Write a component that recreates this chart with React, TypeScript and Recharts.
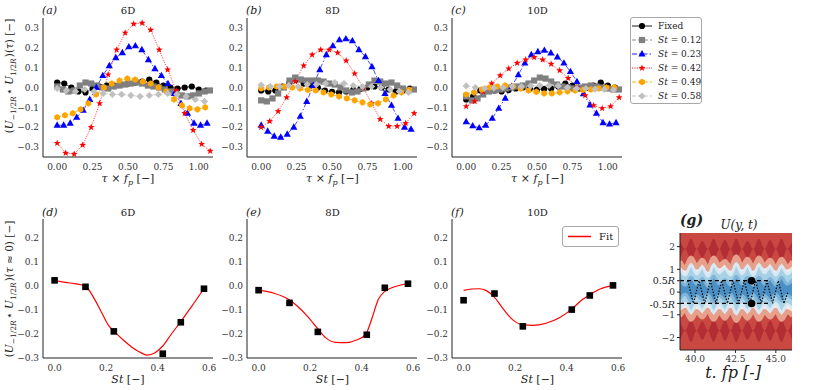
import React from 'react';
import { ComposedChart, Line, Area, Scatter, XAxis, YAxis, ReferenceLine } from 'recharts';

// tau * f_p sampling of each case
const TAU_FIXED = [0, 0.05, 0.1, 0.15, 0.2, 0.25, 0.3, 0.35, 0.4, 0.45, 0.5, 0.55, 0.6, 0.65, 0.7, 0.75, 0.8, 0.85, 0.9, 0.95, 1.0, 1.05];
const TAU_ST012 = [0, 0.04, 0.08, 0.12, 0.16, 0.2, 0.24, 0.28, 0.32, 0.36, 0.4, 0.44, 0.48, 0.52, 0.56, 0.6, 0.64, 0.68, 0.72, 0.76, 0.8, 0.84, 0.88, 0.92, 0.96, 1.0, 1.04, 1.08];
const TAU_ST023 = [0, 0.046, 0.092, 0.138, 0.184, 0.23, 0.276, 0.322, 0.368, 0.414, 0.46, 0.506, 0.552, 0.598, 0.644, 0.69, 0.736, 0.782, 0.828, 0.874, 0.92, 0.966, 1.012, 1.058];
const TAU_ST042 = [0, 0.06, 0.12, 0.18, 0.24, 0.3, 0.36, 0.42, 0.48, 0.54, 0.6, 0.66, 0.72, 0.78, 0.84, 0.9, 0.96, 1.02, 1.08];
const TAU_ST049 = [0, 0.055, 0.11, 0.165, 0.22, 0.275, 0.33, 0.385, 0.44, 0.495, 0.55, 0.605, 0.66, 0.715, 0.77, 0.825, 0.88, 0.935, 0.99, 1.045];
const TAU_ST058 = [0, 0.065, 0.13, 0.195, 0.26, 0.325, 0.39, 0.455, 0.52, 0.585, 0.65, 0.715, 0.78, 0.845, 0.91, 0.975, 1.04];

// 6D
const FIXED_6D = [0.025, 0.02, 0.0, -0.02, -0.025, -0.005, 0.005, 0.01, 0.01, 0.015, 0.02, 0.025, 0.03, 0.04, 0.025, 0.01, 0.0, -0.005, 0.0, 0.005, -0.01, -0.015];
const ST012_6D = [0.005, -0.01, -0.02, -0.015, 0.01, 0.025, 0.02, 0.01, 0.0, -0.005, 0.005, 0.01, 0.015, 0.02, 0.025, 0.02, 0.01, 0.005, 0.0, -0.01, -0.02, -0.03, -0.04, -0.045, -0.04, -0.03, -0.02, -0.015];
const ST023_6D = [-0.19, -0.19, -0.18, -0.15, -0.115, -0.06, 0.0, 0.06, 0.11, 0.15, 0.175, 0.205, 0.21, 0.19, 0.14, 0.095, 0.06, 0.02, -0.03, -0.08, -0.13, -0.18, -0.19, -0.18];
const ST042_6D = [-0.28, -0.33, -0.335, -0.29, -0.2, -0.08, 0.065, 0.19, 0.275, 0.32, 0.325, 0.29, 0.19, 0.09, -0.015, -0.13, -0.215, -0.285, -0.32];
const ST049_6D = [-0.15, -0.14, -0.13, -0.11, -0.08, -0.035, 0.0, 0.02, 0.035, 0.045, 0.04, 0.03, 0.02, 0.0, -0.02, -0.06, -0.09, -0.105, -0.11, -0.1];
const ST058_6D = [-0.005, -0.015, -0.02, -0.01, -0.02, -0.03, -0.035, -0.035, -0.04, -0.045, -0.04, -0.035, -0.03, -0.035, -0.045, -0.06, -0.07];

// 8D
const FIXED_8D = [-0.015, -0.02, -0.015, 0.005, 0.025, 0.04, 0.02, 0.01, 0.0, -0.015, -0.022, -0.025, -0.02, -0.012, -0.008, 0.0, 0.005, 0.0, -0.01, -0.02, -0.015, -0.005];
const ST012_8D = [-0.065, -0.07, -0.055, -0.03, 0.0, 0.035, 0.05, 0.04, 0.035, 0.035, 0.035, 0.03, 0.02, 0.015, 0.0, -0.015, -0.025, -0.02, -0.005, 0.015, 0.035, 0.03, 0.02, 0.025, 0.01, -0.005, -0.015, -0.01];
const ST023_8D = [-0.19, -0.22, -0.245, -0.25, -0.235, -0.2, -0.145, -0.07, 0.01, 0.09, 0.165, 0.21, 0.24, 0.245, 0.235, 0.19, 0.155, 0.105, 0.035, -0.03, -0.09, -0.155, -0.2, -0.21];
const ST042_8D = [-0.2, -0.17, -0.12, -0.05, 0.03, 0.11, 0.165, 0.19, 0.19, 0.175, 0.135, 0.07, 0.0, -0.08, -0.16, -0.195, -0.195, -0.18, -0.13];
const ST049_8D = [-0.005, 0.0, 0.005, 0.005, 0.0, -0.005, -0.012, -0.015, -0.025, -0.035, -0.045, -0.055, -0.065, -0.075, -0.085, -0.08, -0.06, -0.04, -0.025, -0.012];
const ST058_8D = [0.012, 0.005, 0.005, 0.01, 0.005, 0.015, 0.015, 0.02, 0.025, 0.02, 0.01, 0.005, 0.005, 0.0, -0.01, -0.02, -0.025];

// 10D
const FIXED_10D = [-0.06, -0.045, -0.015, -0.01, -0.015, -0.02, -0.012, -0.005, 0.0, -0.005, -0.01, -0.008, -0.005, 0.005, 0.02, 0.01, -0.005, -0.002, 0.01, 0.025, 0.01, 0.0];
const ST012_10D = [-0.045, -0.065, -0.055, -0.035, -0.02, -0.015, -0.01, -0.005, 0.0, 0.005, 0.01, 0.02, 0.035, 0.05, 0.045, 0.03, 0.015, 0.005, 0.0, -0.005, 0.0, 0.005, 0.01, 0.005, 0.0, -0.005, -0.01, -0.01];
const ST023_10D = [-0.172, -0.193, -0.203, -0.19, -0.155, -0.105, -0.054, 0.005, 0.064, 0.123, 0.165, 0.18, 0.187, 0.174, 0.154, 0.123, 0.08, 0.03, -0.032, -0.088, -0.13, -0.177, -0.184, -0.177];
const ST042_10D = [-0.095, -0.07, -0.02, 0.02, 0.06, 0.095, 0.123, 0.14, 0.152, 0.14, 0.118, 0.086, 0.047, 0.0, -0.04, -0.09, -0.105, -0.095, -0.05];
const ST049_10D = [-0.035, -0.025, -0.01, 0.0, 0.005, 0.01, 0.005, -0.005, -0.015, -0.022, -0.03, -0.03, -0.025, -0.02, -0.015, -0.012, -0.01, -0.005, 0.0, 0.0];
const ST058_10D = [0.008, 0.0, -0.005, -0.002, 0.0, 0.005, 0.005, 0.008, 0.01, 0.01, 0.008, 0.0, -0.005, -0.005, -0.008, -0.01, -0.012];

// correlation at tau ~ 0 vs St, and the fitted curves
const ST_POINTS = [0, 0.12, 0.23, 0.42, 0.49, 0.58];
const PEAK_6D = [0.024, -0.003, -0.189, -0.282, -0.151, -0.011];
const PEAK_8D = [-0.017, -0.07, -0.191, -0.203, -0.007, 0.01];
const PEAK_10D = [-0.059, -0.031, -0.168, -0.098, -0.039, 0.003];

const FIT_ST_6D = [0, 0.06, 0.12, 0.15, 0.18, 0.21, 0.24, 0.27, 0.3, 0.33, 0.36, 0.39, 0.42, 0.45, 0.49, 0.53, 0.58];
const FIT_6D = [0.022, 0.013, 0.0, -0.045, -0.105, -0.165, -0.198, -0.228, -0.255, -0.275, -0.288, -0.278, -0.25, -0.205, -0.148, -0.088, -0.01];
const FIT_ST_8D = [0, 0.06, 0.12, 0.15, 0.19, 0.23, 0.26, 0.3, 0.34, 0.38, 0.415, 0.44, 0.465, 0.49, 0.52, 0.58];
const FIT_8D = [-0.017, -0.03, -0.058, -0.083, -0.126, -0.178, -0.215, -0.235, -0.236, -0.225, -0.203, -0.135, -0.055, -0.022, -0.006, 0.011];
const FIT_ST_10D = [0, 0.03, 0.06, 0.09, 0.12, 0.155, 0.19, 0.23, 0.27, 0.32, 0.37, 0.42, 0.46, 0.49, 0.53, 0.58];
const FIT_10D = [-0.018, -0.012, -0.011, -0.02, -0.047, -0.097, -0.14, -0.162, -0.164, -0.155, -0.133, -0.096, -0.057, -0.036, -0.012, 0.002];

// U(y, t) map, read as band edges per time sample
const HEAT_T = [39.05, 39.4, 39.75, 40.1, 40.45, 40.8, 41.15, 41.5, 41.85, 42.2, 42.55, 42.9, 43.25, 43.6, 43.95, 44.3, 44.65, 45.0, 45.35, 45.7, 46.05];
const PALE_TOP = [1.35, 1.05, 1.5, 1.1, 1.4, 1.0, 1.5, 1.15, 1.35, 1.05, 1.55, 1.1, 1.45, 1.05, 1.5, 1.15, 1.4, 1.05, 1.45, 1.1, 1.35];
const BLUE_TOP = [1.05, 0.75, 1.2, 0.8, 1.1, 0.7, 1.2, 0.85, 1.05, 0.75, 1.25, 0.8, 1.15, 0.75, 1.2, 0.85, 1.1, 0.75, 1.15, 0.8, 1.05];
const CORE_TOP = [0.6, 0.3, 0.65, 0.35, 0.6, 0.25, 0.7, 0.35, 0.55, 0.3, 0.7, 0.35, 0.65, 0.3, 0.65, 0.35, 0.6, 0.3, 0.65, 0.35, 0.55];
const CORE_BOT = [-0.3, -0.1, -0.4, -0.15, -0.35, -0.1, -0.45, -0.15, -0.35, -0.1, -0.45, -0.15, -0.4, -0.1, -0.45, -0.15, -0.35, -0.1, -0.4, -0.15, -0.3];
const BLUE_BOT = [-0.75, -0.5, -0.9, -0.55, -0.8, -0.5, -0.9, -0.55, -0.85, -0.5, -0.95, -0.55, -0.85, -0.5, -0.9, -0.55, -0.8, -0.5, -0.9, -0.55, -0.75];
const PALE_BOT = [-1.05, -0.8, -1.2, -0.85, -1.1, -0.8, -1.2, -0.85, -1.15, -0.8, -1.25, -0.85, -1.15, -0.8, -1.2, -0.85, -1.1, -0.8, -1.2, -0.85, -1.05];
const DARK_TOP_LO = [1.45, 1.9, 1.4, 1.9, 1.5, 1.9, 1.4, 1.9, 1.45, 1.9, 1.4, 1.9, 1.5, 1.9, 1.4, 1.9, 1.45, 1.9, 1.4, 1.9, 1.45];
const DARK_TOP_HI = [2.3, 1.9, 2.35, 1.9, 2.25, 1.9, 2.35, 1.9, 2.3, 1.9, 2.35, 1.9, 2.25, 1.9, 2.35, 1.9, 2.3, 1.9, 2.35, 1.9, 2.3];
const DARK_BOT_HI = [-1.25, -1.7, -1.2, -1.7, -1.3, -1.7, -1.2, -1.7, -1.25, -1.7, -1.2, -1.7, -1.3, -1.7, -1.2, -1.7, -1.25, -1.7, -1.2, -1.7, -1.25];
const DARK_BOT_LO = [-2.15, -1.7, -2.2, -1.7, -2.1, -1.7, -2.2, -1.7, -2.15, -1.7, -2.2, -1.7, -2.1, -1.7, -2.2, -1.7, -2.15, -1.7, -2.2, -1.7, -2.15];

const ZIG_T = [39.55, 39.9, 40.25, 40.6, 40.95, 41.3, 41.65, 42.0, 42.35, 42.7, 43.05, 43.4, 43.75, 44.1, 44.45, 44.8, 45.15, 45.5, 45.75];
const ZIG_Y = [0.5, -0.5, 0.5, -0.5, 0.5, -0.5, 0.5, -0.5, 0.5, -0.5, 0.5, -0.5, 0.5, -0.5, 0.5, -0.5, 0.5, -0.5, 0.0];
const PROBE_T = [43.5, 43.5];
const PROBE_Y = [0.5, -0.5];
const PROBE_LEVELS = [0.5, -0.5];
const PROBE_LINE_END = 44.6;

const TAU_TICKS = [0, 0.25, 0.5, 0.75, 1.0];
const CORR_TICKS = [-0.3, -0.2, -0.1, 0, 0.1, 0.2, 0.3];
const ST_TICKS = [0, 0.2, 0.4, 0.6];
const PEAK_TICKS = [-0.3, -0.2, -0.1, 0, 0.1, 0.2];
const G_X_TICKS = [40, 42.5, 45];
const G_Y_TICKS = [-2, -1, -0.5, 0, 0.5, 1, 2];
const G_X_DOMAIN = [39.07, 46.0];
const G_Y_DOMAIN = [-2.55, 2.6];

type Shape = 'circle' | 'square' | 'triangle' | 'star' | 'hexagon' | 'diamond';

const SERIES: { key: string; label: string; color: string; dash?: string; shape: Shape; tau: number[] }[] = [
  { key: 'fixed', label: 'Fixed', color: '#000000', shape: 'circle', tau: TAU_FIXED },
  { key: 'st012', label: '0.12', color: '#808080', dash: '4 2', shape: 'square', tau: TAU_ST012 },
  { key: 'st023', label: '0.23', color: '#0000ff', dash: '5 2 1.5 2', shape: 'triangle', tau: TAU_ST023 },
  { key: 'st042', label: '0.42', color: '#ff0000', dash: '1.2 1.2', shape: 'star', tau: TAU_ST042 },
  { key: 'st049', label: '0.49', color: '#ffa500', dash: '4 2', shape: 'hexagon', tau: TAU_ST049 },
  { key: 'st058', label: '0.58', color: '#c0c0c0', dash: '4 2', shape: 'diamond', tau: TAU_ST058 },
];

const TOP_PANELS = [
  { letter: 'a', title: '6D', left: 0, values: [FIXED_6D, ST012_6D, ST023_6D, ST042_6D, ST049_6D, ST058_6D] },
  { letter: 'b', title: '8D', left: 204, values: [FIXED_8D, ST012_8D, ST023_8D, ST042_8D, ST049_8D, ST058_8D] },
  { letter: 'c', title: '10D', left: 409, values: [FIXED_10D, ST012_10D, ST023_10D, ST042_10D, ST049_10D, ST058_10D] },
];

const BOTTOM_PANELS = [
  { letter: 'd', title: '6D', left: 0, peak: PEAK_6D, fitSt: FIT_ST_6D, fit: FIT_6D },
  { letter: 'e', title: '8D', left: 204, peak: PEAK_8D, fitSt: FIT_ST_8D, fit: FIT_8D },
  { letter: 'f', title: '10D', left: 409, peak: PEAK_10D, fitSt: FIT_ST_10D, fit: FIT_10D },
];

const SERIF = 'DejaVu Serif, serif';
const TICK = { fontFamily: SERIF, fontSize: 9, fill: '#333' };
const AXIS = '#222';
const MINUS = '\u2212';
const PLOT_W = 170;
const Y_W = 43;
const RIGHT_PAD = 12;

const fmt = (d: number) => (v: number) => (v < 0 ? MINUS : '') + Math.abs(v).toFixed(d);
const zip = (xs: number[], ys: number[]) => xs.map((x, i) => ({ x, y: ys[i] }));

const starPoints = (cx: number, cy: number, R: number, r: number) =>
  Array.from({ length: 10 }, (_, k) => {
    const a = -Math.PI / 2 + (k * Math.PI) / 5;
    const rad = k % 2 === 0 ? R : r;
    return `${cx + rad * Math.cos(a)},${cy + rad * Math.sin(a)}`;
  }).join(' ');

const polyPoints = (cx: number, cy: number, r: number, n: number, rot: number) =>
  Array.from({ length: n }, (_, k) => {
    const a = rot + (k * 2 * Math.PI) / n;
    return `${cx + r * Math.cos(a)},${cy + r * Math.sin(a)}`;
  }).join(' ');

function Marker({ shape, cx, cy, color }: { shape: Shape; cx: number; cy: number; color: string }) {
  if (cx == null || cy == null) return null;
  switch (shape) {
    case 'circle':
      return <circle cx={cx} cy={cy} r={3.1} fill={color} />;
    case 'square':
      return <rect x={cx - 3.1} y={cy - 3.1} width={6.2} height={6.2} fill={color} />;
    case 'triangle':
      return <polygon points={`${cx},${cy - 3.9} ${cx + 3.6},${cy + 2.5} ${cx - 3.6},${cy + 2.5}`} fill={color} />;
    case 'star':
      return <polygon points={starPoints(cx, cy, 3.6, 1.5)} fill={color} />;
    case 'hexagon':
      return <polygon points={polyPoints(cx, cy, 3.3, 6, -Math.PI / 2)} fill={color} />;
    default:
      return <polygon points={polyPoints(cx, cy, 3.6, 4, -Math.PI / 2)} fill={color} />;
  }
}

const makeDot = (shape: Shape, color: string) => (props: any) => (
  <g key={`${shape}-${props.index}`}>
    <Marker shape={shape} cx={props.cx} cy={props.cy} color={color} />
  </g>
);

const squareShape = (props: any) => <rect x={props.cx - 3.3} y={props.cy - 3.3} width={6.6} height={6.6} fill="#000" />;
const probeShape = (props: any) => <circle cx={props.cx} cy={props.cy} r={3.8} fill="#000" />;

function TopPanel({ left, values }: { left: number; values: number[][] }) {
  return (
    <div style={{ position: 'absolute', left, top: 0 }}>
      <ComposedChart width={Y_W + PLOT_W + RIGHT_PAD} height={200} margin={{ top: 18, right: RIGHT_PAD, bottom: 0, left: 0 }}>
        <XAxis dataKey="x" type="number" domain={[-0.1, 1.1]} ticks={TAU_TICKS} interval={0} tickFormatter={fmt(2)}
          allowDataOverflow height={43} tickSize={0} tickMargin={7} tick={TICK} stroke={AXIS} />
        <XAxis xAxisId="top" orientation="top" dataKey="x" type="number" domain={[-0.1, 1.1]} allowDataOverflow
          height={0} tick={false} tickLine={false} stroke={AXIS} />
        <YAxis type="number" domain={[-0.35, 0.35]} ticks={CORR_TICKS} interval={0} tickFormatter={fmt(1)}
          allowDataOverflow width={Y_W} tickSize={0} tickMargin={4} tick={TICK} stroke={AXIS} />
        <YAxis yAxisId="right" orientation="right" type="number" domain={[-0.35, 0.35]} width={0}
          tick={false} tickLine={false} stroke={AXIS} />
        {SERIES.map((s, i) => (
          <Line key={s.key} data={zip(s.tau, values[i])} dataKey="y" name={s.label} type="linear"
            stroke={s.color} strokeWidth={0.7} strokeDasharray={s.dash}
            dot={makeDot(s.shape, s.color)} activeDot={false} isAnimationActive={false} />
        ))}
      </ComposedChart>
    </div>
  );
}

function BottomPanel({ left, peak, fitSt, fit }: { left: number; peak: number[]; fitSt: number[]; fit: number[] }) {
  return (
    <div style={{ position: 'absolute', left, top: 200 }}>
      <ComposedChart width={Y_W + PLOT_W + RIGHT_PAD} height={190} margin={{ top: 19, right: RIGHT_PAD, bottom: 0, left: 0 }}>
        <XAxis dataKey="x" type="number" domain={[-0.045, 0.615]} ticks={ST_TICKS} interval={0} tickFormatter={fmt(1)}
          allowDataOverflow height={32} tickSize={0} tickMargin={7} tick={TICK} stroke={AXIS} />
        <XAxis xAxisId="top" orientation="top" dataKey="x" type="number" domain={[-0.045, 0.615]} allowDataOverflow
          height={0} tick={false} tickLine={false} stroke={AXIS} />
        <YAxis type="number" domain={[-0.3, 0.28]} ticks={PEAK_TICKS} interval={0} tickFormatter={fmt(1)}
          allowDataOverflow width={Y_W} tickSize={0} tickMargin={4} tick={TICK} stroke={AXIS} />
        <YAxis yAxisId="right" orientation="right" type="number" domain={[-0.3, 0.28]} width={0}
          tick={false} tickLine={false} stroke={AXIS} />
        <Line data={zip(fitSt, fit)} dataKey="y" type="monotone" stroke="#ff0000" strokeWidth={1.2}
          dot={false} activeDot={false} isAnimationActive={false} />
        <Scatter data={zip(ST_POINTS, peak)} dataKey="y" shape={squareShape} isAnimationActive={false} />
      </ComposedChart>
    </div>
  );
}

const HEAT_ROWS = HEAT_T.map((t, i) => ({
  t,
  base: G_Y_DOMAIN,
  darkTop: [DARK_TOP_LO[i], DARK_TOP_HI[i]],
  darkBot: [DARK_BOT_LO[i], DARK_BOT_HI[i]],
  pale: [PALE_BOT[i], PALE_TOP[i]],
  blue: [BLUE_BOT[i], BLUE_TOP[i]],
  core: [CORE_BOT[i], CORE_TOP[i]],
}));

const GTick = (props: any) => {
  const { x, y, payload } = props;
  const v = payload.value;
  if (Math.abs(v) === 0.5) {
    return (
      <text x={x} y={y} dy={v > 0 ? 3.5 : 5} textAnchor="end" fontFamily={SERIF} fontSize={9.5} fill="#222">
        {v < 0 ? '-0.5' : '0.5'}<tspan fontStyle="italic">R</tspan>
      </text>
    );
  }
  return (
    <text x={x} y={y} dy={3.2} textAnchor="end" fontFamily={SERIF} fontSize={9} fill="#333">
      {fmt(0)(v)}
    </text>
  );
};

function HeatPanel() {
  return (
    <div style={{ position: 'absolute', left: 640, top: 200 }}>
      <ComposedChart width={160} height={190} data={HEAT_ROWS} margin={{ top: 33, right: 8, bottom: 0, left: 0 }}>
        <XAxis dataKey="t" type="number" domain={G_X_DOMAIN} ticks={G_X_TICKS} interval={0} tickFormatter={fmt(1)}
          allowDataOverflow height={40} tickSize={3} tickMargin={3} tick={TICK} stroke={AXIS} />
        <YAxis type="number" domain={G_Y_DOMAIN} ticks={G_Y_TICKS} interval={0} tick={<GTick />}
          allowDataOverflow width={40} tickSize={3} tickMargin={2} stroke={AXIS} />
        <Area dataKey="base" type="linear" stroke="none" fill="#c94841" fillOpacity={1} isAnimationActive={false} activeDot={false} />
        <Area dataKey="darkTop" type="monotone" stroke="none" fill="#9e1229" fillOpacity={0.5} isAnimationActive={false} activeDot={false} />
        <Area dataKey="darkBot" type="monotone" stroke="none" fill="#9e1229" fillOpacity={0.5} isAnimationActive={false} activeDot={false} />
        <Area dataKey="pale" type="monotone" stroke="#e6a08b" strokeWidth={5} fill="#f7ede9" fillOpacity={1} isAnimationActive={false} activeDot={false} />
        <Area dataKey="blue" type="monotone" stroke="#d8e9f3" strokeWidth={3} fill="#a9d1e6" fillOpacity={1} isAnimationActive={false} activeDot={false} />
        <Area dataKey="core" type="monotone" stroke="#7fb5d8" strokeWidth={3} fill="#4a90c5" fillOpacity={1} isAnimationActive={false} activeDot={false} />
        {PROBE_LEVELS.map((lv) => (
          <ReferenceLine key={lv} segment={[{ x: G_X_DOMAIN[0], y: lv }, { x: PROBE_LINE_END, y: lv }]}
            stroke="#000" strokeWidth={1.2} strokeDasharray="4 3" />
        ))}
        <Line data={ZIG_T.map((t, i) => ({ t, y: ZIG_Y[i] }))} dataKey="y" type="linear" stroke="#000"
          strokeWidth={1.2} strokeDasharray="1.4 1.6" dot={false} activeDot={false} isAnimationActive={false} />
        <Scatter data={PROBE_T.map((t, i) => ({ t, y: PROBE_Y[i] }))} dataKey="y" shape={probeShape} isAnimationActive={false} />
      </ComposedChart>
    </div>
  );
}

function SeriesLegend() {
  return (
    <div style={{ position: 'absolute', left: 630, top: 17, width: 70, height: 85, border: '1px solid #a8a8a8', borderRadius: 3, background: 'rgba(255,255,255,0.85)' }}>
      <svg width={70} height={85}>
        {SERIES.map((s, i) => {
          const y = 8 + i * 14;
          return (
            <g key={s.key}>
              <line x1={1} x2={21} y1={y} y2={y} stroke={s.color} strokeWidth={0.9} strokeDasharray={s.dash} />
              <Marker shape={s.shape} cx={11} cy={y} color={s.color} />
              <text x={27} y={y + 3.3} fontFamily={SERIF} fontSize={9} fill="#222">
                {s.key === 'fixed' ? s.label : (<><tspan fontStyle="italic">St</tspan> = {s.label}</>)}
              </text>
            </g>
          );
        })}
      </svg>
    </div>
  );
}

function FitLegend() {
  return (
    <div style={{ position: 'absolute', left: 562, top: 226, width: 55, height: 19, border: '1px solid #a8a8a8', borderRadius: 3, background: 'rgba(255,255,255,0.85)' }}>
      <svg width={55} height={19}>
        <line x1={5} x2={28} y1={9.5} y2={9.5} stroke="#ff0000" strokeWidth={1.5} />
        <text x={36} y={13} fontFamily={SERIF} fontSize={10} fill="#222">Fit</text>
      </svg>
    </div>
  );
}

const sub = (content: React.ReactNode) => (
  <>
    <tspan dy={2.5} fontSize={7.5}>{content}</tspan>
    <tspan dy={-2.5}>{'\u200A'}</tspan>
  </>
);

function Annotations() {
  const centers = [128, 332.5, 537.5];
  const starts = [42, 246, 451];
  return (
    <svg width={817} height={390} style={{ position: 'absolute', left: 0, top: 0, pointerEvents: 'none' }} fontFamily={SERIF} fill="#222">
      {TOP_PANELS.map((p, i) => (
        <g key={p.letter}>
          <text x={starts[i]} y={14} fontSize={11} fontStyle="italic">({p.letter})</text>
          <text x={centers[i]} y={14} fontSize={10} textAnchor="middle">{p.title}</text>
          <text x={centers[i]} y={182} fontSize={11} textAnchor="middle">
            <tspan fontStyle="italic">τ</tspan> × <tspan fontStyle="italic">f</tspan>
            <tspan dy={2.5} fontSize={8} fontStyle="italic">p</tspan>
            <tspan dy={-2.5}> [{MINUS}]</tspan>
          </text>
        </g>
      ))}
      {BOTTOM_PANELS.map((p, i) => (
        <g key={p.letter}>
          <text x={starts[i]} y={216} fontSize={11} fontStyle="italic">({p.letter})</text>
          <text x={centers[i]} y={216} fontSize={10} textAnchor="middle">{p.title}</text>
          <text x={centers[i]} y={383} fontSize={11} textAnchor="middle">
            <tspan fontStyle="italic">St</tspan> [{MINUS}]
          </text>
        </g>
      ))}
      <text transform="rotate(-90 13 76)" x={13} y={76} fontSize={10.5} textAnchor="middle">
        (<tspan fontStyle="italic">U</tspan>{sub(<>{MINUS}1/2<tspan fontStyle="italic">R</tspan></>)}⋆ <tspan fontStyle="italic">U</tspan>
        {sub(<>1/2<tspan fontStyle="italic">R</tspan></>)})(<tspan fontStyle="italic">τ</tspan>) [{MINUS}]
      </text>
      <text transform="rotate(-90 13 289)" x={13} y={289} fontSize={10.5} textAnchor="middle">
        (<tspan fontStyle="italic">U</tspan>{sub(<>{MINUS}1/2<tspan fontStyle="italic">R</tspan></>)}⋆ <tspan fontStyle="italic">U</tspan>
        {sub(<>1/2<tspan fontStyle="italic">R</tspan></>)})(<tspan fontStyle="italic">τ</tspan> ≈ 0) [{MINUS}]
      </text>
      <text x={680} y={225} fontSize={14} fontStyle="italic" fontWeight="bold">(g)</text>
      <text x={739} y={229} fontSize={12} fontStyle="italic" textAnchor="middle">U(y, t)</text>
      <text x={733} y={378} fontSize={16} fontStyle="italic" textAnchor="middle">t. fp [-]</text>
    </svg>
  );
}

export default function App() {
  return (
    <div style={{ position: 'absolute', left: 0, top: 0, width: 817, height: 390, background: '#fff', overflow: 'hidden' }}>
      {TOP_PANELS.map((p) => (
        <TopPanel key={p.letter} left={p.left} values={p.values} />
      ))}
      {BOTTOM_PANELS.map((p) => (
        <BottomPanel key={p.letter} left={p.left} peak={p.peak} fitSt={p.fitSt} fit={p.fit} />
      ))}
      <HeatPanel />
      <SeriesLegend />
      <FitLegend />
      <Annotations />
    </div>
  );
}
